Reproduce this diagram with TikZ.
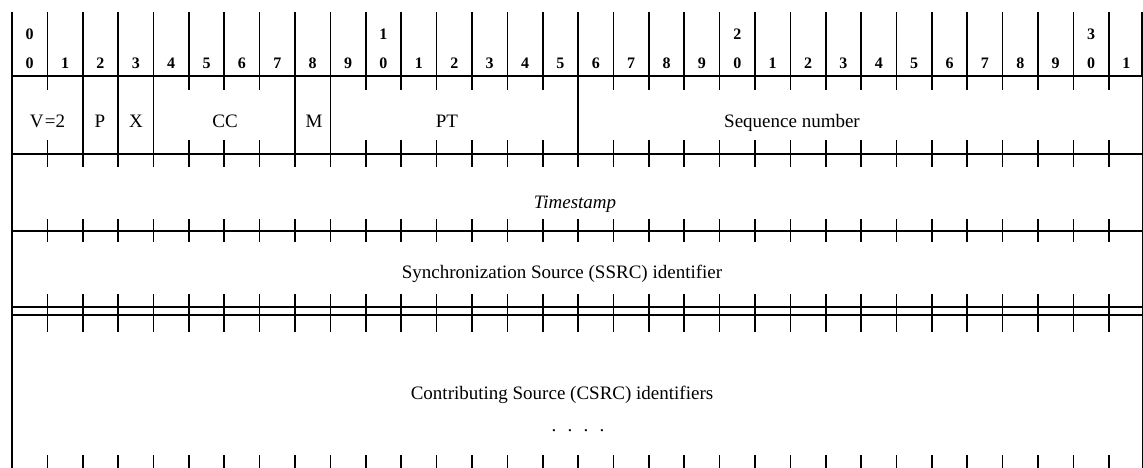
\documentclass[tikz,border=0pt]{standalone}
\usepackage{fontspec}
\setmainfont{Liberation Serif}
\begin{document}
\begin{tikzpicture}[x=1pt,y=-1pt,line width=1.6pt,
  lbl/.style={font=\fontsize{19}{22}\selectfont,inner sep=0pt,anchor=base},
  hd/.style={font=\fontsize{16}{18}\selectfont\bfseries,inner sep=0pt,anchor=base},
  thin border/.style={line width=1pt}]
\useasboundingbox (0,0) rectangle (1143,468);
\def\cw{35.38}
% header verticals
\foreach \k in {0,...,31} \draw ({12+\k*\cw},12) -- ({12+\k*\cw},76);
\draw (1142,12) -- (1142,76);
% borders
\draw (12,12) -- (12,468);
\draw[thin border] (1142,76) -- (1142,468);
% header line
\draw (12,76) -- (1142,76);
% header digits
\foreach \k in {0,...,31} {
  \pgfmathtruncatemacro\d{mod(\k,10)}
  \node[hd] (b\k) at ({12+(\k+0.5)*\cw},69) {\d};
}
\foreach \k/\d in {0/0,10/1,20/2,30/3}
  \node[hd] (t\k) at ({12+(\k+0.5)*\cw},40) {\d};
% field row
\foreach \k in {2,3,4,8,9,16} \draw ({12+\k*\cw},76) -- ({12+\k*\cw},154);
\foreach \k in {1,5,6,7,10,11,12,13,14,15,17,18,19,20,21,22,23,24,25,26,27,28,29,30,31}
  \draw ({12+\k*\cw},76) -- ({12+\k*\cw},90);
% line 154
\draw (12,154) -- (1142,154);
\foreach \k in {1,...,31} \draw ({12+\k*\cw},140) -- ({12+\k*\cw},167);
% line 231
\draw (12,231) -- (1142,231);
\foreach \k in {1,...,31} \draw ({12+\k*\cw},219) -- ({12+\k*\cw},242);
% double line
\draw[line width=1.3pt] (12,307) -- (1142,307);
\draw[line width=1.3pt] (12,315) -- (1142,315);
\foreach \k in {1,...,31} \draw ({12+\k*\cw},294) -- ({12+\k*\cw},332);
% bottom ticks
\foreach \k in {1,...,31} \draw ({12+\k*\cw},455) -- ({12+\k*\cw},468);
% labels
\node[lbl] (v) at (47.5,128) {V\kern1.5pt=2};
\node[lbl] (p) at (100,128) {P};
\node[lbl] (x) at (136,128) {X};
\node[lbl] (cc) at (225,128) {CC};
\node[lbl] (m) at (314,128) {M};
\node[lbl] (pt) at (447,128) {PT};
\node[lbl] (seq) at (792,128) {Sequence number};
\node[lbl] (ts) at (575,208) {\itshape Timestamp};
\node[lbl] (ssrc) at (562,278) {Synchronization Source (SSRC) identifier};
\node[lbl] (csrc) at (562,399) {Contributing Source (CSRC) identifiers};
\node[lbl] (dots) at (578,431) {.\hspace{11.25pt}.\hspace{11.25pt}.\hspace{11.25pt}.};
\end{tikzpicture}
\end{document}
